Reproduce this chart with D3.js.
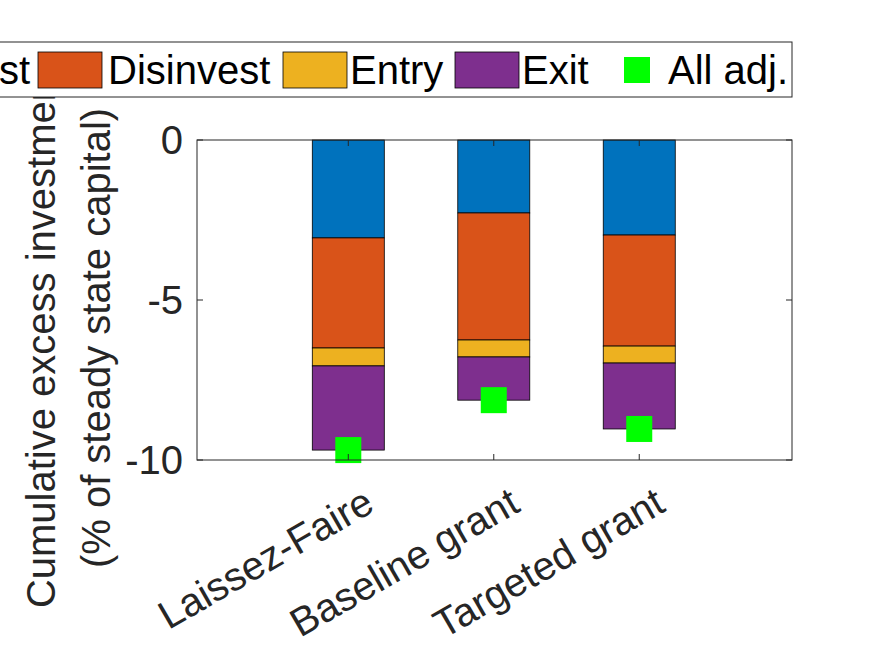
<!DOCTYPE html><html><head><meta charset="utf-8"><script src="https://cdn.jsdelivr.net/npm/d3@7"></script>
<style>body{margin:0;background:#fff}text{font-family:"Liberation Sans",Arial,sans-serif}</style></head><body>
<svg id="c" width="875" height="656"></svg>
<script>
const categories=["Laissez-Faire","Baseline grant","Targeted grant"];
const invest=[-3.06,-2.28,-2.97];
const disinvest=[-3.44,-3.97,-3.47];
const entry=[-0.56,-0.53,-0.53];
const exit=[-2.63,-1.35,-2.06];
const allAdj=[-9.69,-8.13,-9.03];
const yTicks=[0,-5,-10];
const seriesNames=["Invest","Disinvest","Entry","Exit"];
const colors=["#0072BD","#D95319","#EDB120","#7E2F8E"];
const FS=40;
const svg=d3.select("#c");
const L=197,R=792,T=140,B=460;
const x=d3.scaleLinear().domain([-0.04,4.05]).range([L,R]);
const y=d3.scaleLinear().domain([-10,0]).range([B,T]);
const series=[invest,disinvest,entry,exit];
const bw=72;
const yl=svg.append("text").attr("transform","translate(55,338) rotate(-90)").attr("text-anchor","middle").attr("font-size",FS).attr("fill","#262626");
yl.append("tspan").attr("x",0).attr("dy",0).text("Cumulative excess investment");
yl.append("tspan").attr("x",0).attr("dy",55).text("(% of steady state capital)");
categories.forEach((c,i)=>{let cum=0;series.forEach((s,k)=>{const a=cum,b=cum+s[i];cum=b;
svg.append("rect").attr("x",x(i+1)-bw/2).attr("width",bw).attr("y",y(a)).attr("height",y(b)-y(a)).attr("fill",colors[k]).attr("stroke","#000").attr("stroke-width",0.8);});});
svg.selectAll(".m").data(allAdj).enter().append("rect").attr("x",(d,i)=>x(i+1)-13).attr("y",d=>y(d)-13).attr("width",26).attr("height",26).attr("fill","#00FF00");
const g=svg.append("g");
g.append("rect").attr("x",L).attr("y",T).attr("width",R-L).attr("height",B-T).attr("fill","none").attr("stroke","#262626").attr("stroke-width",1);
yTicks.forEach(t=>{g.append("line").attr("x1",L).attr("x2",L+6).attr("y1",y(t)).attr("y2",y(t)).attr("stroke","#262626");
g.append("line").attr("x1",R).attr("x2",R-6).attr("y1",y(t)).attr("y2",y(t)).attr("stroke","#262626");
g.append("text").attr("x",L-14).attr("y",y(t)).attr("dy","0.36em").attr("text-anchor","end").attr("font-size",FS).attr("fill","#262626").text(t);});
categories.forEach((c,i)=>{const px=x(i+1);
g.append("line").attr("x1",px).attr("x2",px).attr("y1",B).attr("y2",B-6).attr("stroke","#262626");
g.append("line").attr("x1",px).attr("x2",px).attr("y1",T).attr("y2",T+6).attr("stroke","#262626");
g.append("text").attr("transform",`translate(${px+14},${B+26}) rotate(-30)`).attr("text-anchor","end").attr("dy","0.7em").attr("font-size",FS).attr("fill","#262626").text(c);});
const lg=svg.append("g");
lg.append("rect").attr("x",-300).attr("y",42).attr("width",1092).attr("height",55).attr("fill","#fff").attr("stroke","#262626");
const items=[{p:-134,t:30,k:0},{p:38,t:108,k:1},{p:283,t:350,k:2},{p:455,t:522,k:3}];
items.forEach(o=>{lg.append("rect").attr("x",o.p).attr("y",52).attr("width",64).attr("height",36).attr("fill",colors[o.k]).attr("stroke","#000").attr("stroke-width",0.8);
lg.append("text").attr("x",o.t).attr("y",70).attr("dy","0.36em").attr("text-anchor",o.k==0?"end":"start").attr("font-size",FS).attr("fill","#000").text(seriesNames[o.k]);});
lg.append("rect").attr("x",624).attr("y",57).attr("width",26).attr("height",26).attr("fill","#00FF00");
lg.append("text").attr("x",668).attr("y",70).attr("dy","0.36em").attr("font-size",FS).attr("fill","#000").text("All adj.");
</script></body></html>
